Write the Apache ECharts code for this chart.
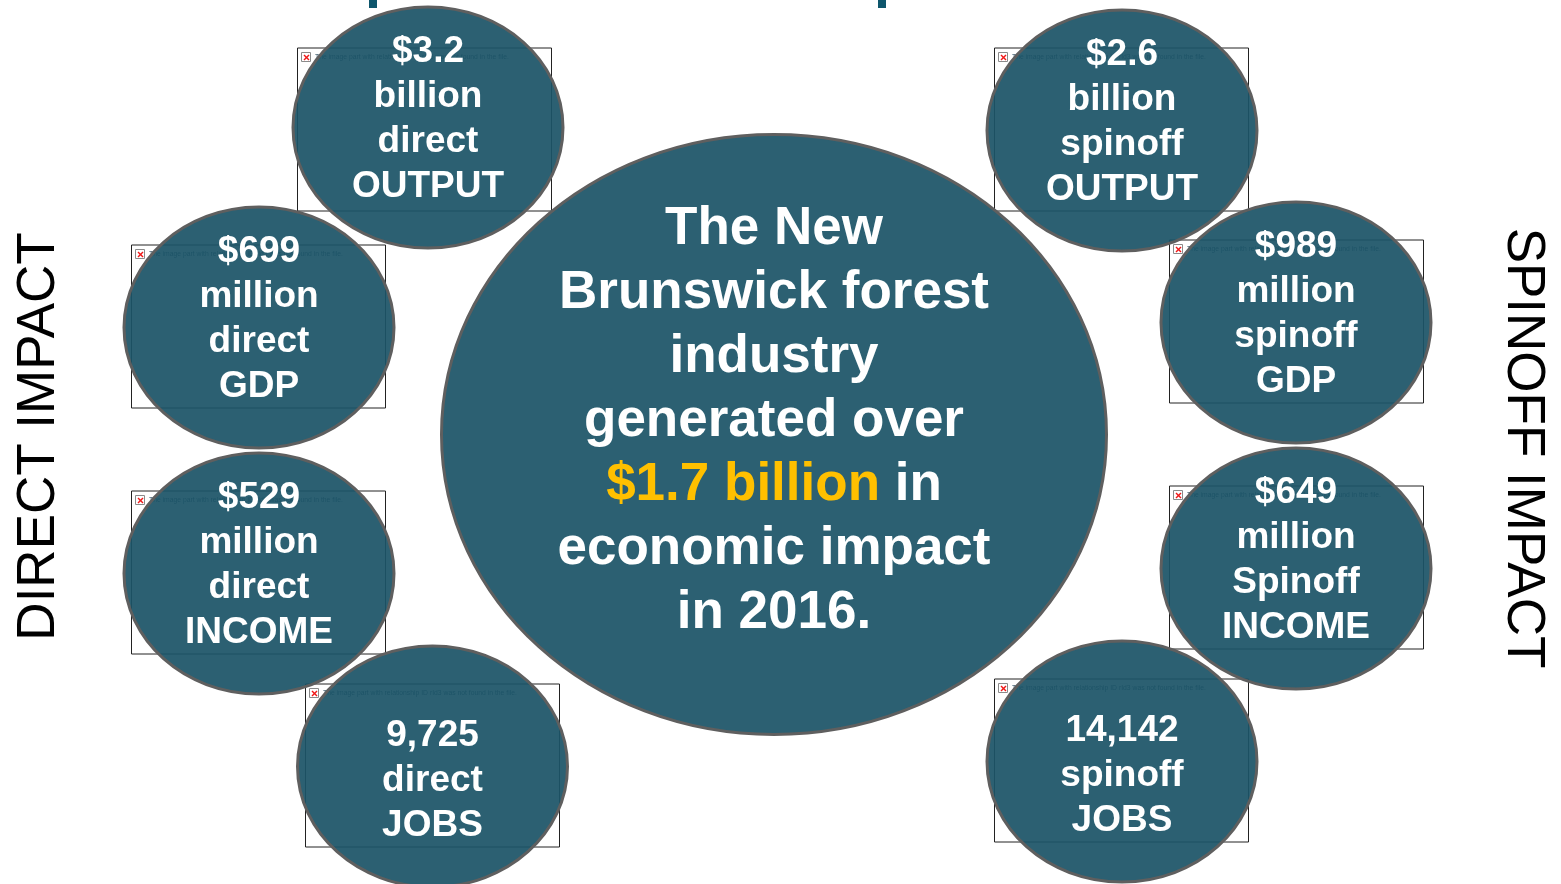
<!DOCTYPE html>
<html>
<head>
<meta charset="utf-8">
<title>New Brunswick forest industry impact</title>
<script src="https://cdn.jsdelivr.net/npm/echarts@6/dist/echarts.min.js"></script>
<style>
  html, body { margin: 0; padding: 0; background: #fff; }
  #main { width: 1561px; height: 884px; }
</style>
</head>
<body>
<div id="main"></div>
<script>
// texts of the eight small bubbles
var bubbleLines = [
    ['$3.2', 'billion', 'direct', 'OUTPUT'],
    ['$699', 'million', 'direct', 'GDP'],
    ['$529', 'million', 'direct', 'INCOME'],
    ['9,725', 'direct', 'JOBS'],
    ['$2.6', 'billion', 'spinoff', 'OUTPUT'],
    ['$989', 'million', 'spinoff', 'GDP'],
    ['$649', 'million', 'Spinoff', 'INCOME'],
    ['14,142', 'spinoff', 'JOBS']
];
var centerLines = ['The New', 'Brunswick forest', 'industry', 'generated over', '$1.7 billion| in', 'economic impact', 'in 2016.'];
var sideLabels = ['DIRECT IMPACT', 'SPINOFF IMPACT'];
var missingImageText = 'The image part with relationship ID rId3 was not found in the file.';

// layout, in picture pixels
var bubbleCentersX = [428, 259, 259, 432.5, 1122, 1296, 1296, 1122];
var bubbleCentersY = [127.5, 327.5, 573.5, 766.5, 130.5, 322.5, 568.5, 761.5];
var bubbleTextY = [119.5, 319.5, 565.5, 781, 122.5, 314.5, 560.5, 776];
var boxLeft = [297, 131, 131, 305, 994, 1169, 1169, 994];
var boxTop = [47.5, 244.5, 490.5, 683.5, 47.5, 239.5, 485.5, 678.5];

var TEAL = 'rgba(28,84,103,0.93)';
var FONT = '"Liberation Sans", Arial, sans-serif';

const boxItem = (params, api) => {
    const p = api.coord([api.value(0), api.value(1)]);
    const size = api.size([254, 163]);
    return {
        type: 'group',
        children: [
            { type: 'rect', shape: { x: p[0] + 0.5, y: p[1] + 0.5, width: size[0], height: size[1] },
              style: { fill: '#fff', stroke: '#222', lineWidth: 1 } },
            { type: 'rect', shape: { x: p[0] + 4.5, y: p[1] + 5, width: 9, height: 9 },
              style: { fill: '#fff', stroke: '#8a8a8a', lineWidth: 1 } },
            { type: 'line', shape: { x1: p[0] + 7, y1: p[1] + 7.5, x2: p[0] + 12, y2: p[1] + 12.5 },
              style: { stroke: '#f01818', lineWidth: 1.4 } },
            { type: 'line', shape: { x1: p[0] + 12, y1: p[1] + 7.5, x2: p[0] + 7, y2: p[1] + 12.5 },
              style: { stroke: '#f01818', lineWidth: 1.4 } },
            { type: 'text', style: { x: p[0] + 18, y: p[1] + 9.5, text: missingImageText,
              fill: '#1c3f55', font: '6.8px ' + FONT, align: 'left', verticalAlign: 'middle' } }
        ]
    };
};

const ellipseItem = (params, api) => {
    const p = api.coord([api.value(0), api.value(1)]);
    const r = api.size([api.value(2), api.value(3)]);
    return {
        type: 'ellipse',
        shape: { cx: p[0], cy: p[1], rx: r[0], ry: r[1] },
        style: { fill: TEAL, stroke: '#5f5f5f', lineWidth: 3 }
    };
};

const bubbleTextItem = (params, api) => {
    const p = api.coord([api.value(0), api.value(1)]);
    return {
        type: 'text',
        style: {
            x: p[0], y: p[1],
            text: bubbleLines[params.dataIndex].map((s) => '{a|' + s + '}').join('\n'),
            align: 'center', verticalAlign: 'middle',
            rich: { a: { fill: '#fff', font: 'bold 37px ' + FONT, lineHeight: 45, align: 'center' } }
        }
    };
};

const centerTextItem = (params, api) => {
    const p = api.coord([api.value(0), api.value(1)]);
    const text = centerLines.map((s) => {
        const parts = s.split('|');
        return parts.length > 1 ? '{y|' + parts[0] + '}{w|' + parts[1] + '}' : '{w|' + s + '}';
    }).join('\n');
    return {
        type: 'text',
        style: {
            x: p[0], y: p[1], text: text, align: 'center', verticalAlign: 'middle',
            rich: {
                w: { fill: '#fff', font: 'bold 53px ' + FONT, lineHeight: 64 },
                y: { fill: '#ffc000', font: 'bold 53px ' + FONT, lineHeight: 64 }
            }
        }
    };
};

const sideTextItem = (params, api) => {
    const p = api.coord([api.value(0), api.value(1)]);
    return {
        type: 'text',
        x: p[0], y: p[1],
        rotation: params.dataIndex === 0 ? Math.PI / 2 : -Math.PI / 2,
        style: { x: 0, y: 0, text: sideLabels[params.dataIndex], fill: '#000',
            font: '53px ' + FONT, align: 'center', verticalAlign: 'middle' }
    };
};

const tickItem = (params, api) => {
    const p = api.coord([api.value(0), 0]);
    const s = api.size([8, 8]);
    return { type: 'rect', shape: { x: p[0], y: p[1], width: s[0], height: s[1] }, style: { fill: '#0e566c' } };
};

const getOption = () => {
    const boxes = boxLeft.map((x, i) => [x, boxTop[i]]);
    const ellipses = bubbleCentersX.map((x, i) => [x, bubbleCentersY[i], 135, 120.5]);
    ellipses.push([774, 434.5, 332.5, 300]);
    const bubbleTexts = bubbleCentersX.map((x, i) => [x, bubbleTextY[i]]);
    return {
        animation: false,
        backgroundColor: '#fff',
        grid: { left: 0, right: 0, top: 0, bottom: 0 },
        xAxis: { type: 'value', min: 0, max: 1561, show: false },
        yAxis: { type: 'value', min: 0, max: 884, inverse: true, show: false },
        series: [
            { type: 'custom', coordinateSystem: 'cartesian2d', clip: false, renderItem: tickItem, data: [[369], [878]], encode: { x: 0 }, z: 1 },
            { type: 'custom', coordinateSystem: 'cartesian2d', clip: false, renderItem: boxItem, data: boxes, z: 2 },
            { type: 'custom', coordinateSystem: 'cartesian2d', clip: false, renderItem: ellipseItem, data: ellipses, z: 3 },
            { type: 'custom', coordinateSystem: 'cartesian2d', clip: false, renderItem: bubbleTextItem, data: bubbleTexts, z: 4 },
            { type: 'custom', coordinateSystem: 'cartesian2d', clip: false, renderItem: centerTextItem, data: [[774, 421.5]], z: 4 },
            { type: 'custom', coordinateSystem: 'cartesian2d', clip: false, renderItem: sideTextItem, data: [[39.5, 436.5], [1523, 448]], z: 4 }
        ]
    };
};

const chart = echarts.init(document.getElementById('main'), null, { renderer: 'canvas' });
chart.setOption(getOption());
</script>
</body>
</html>
